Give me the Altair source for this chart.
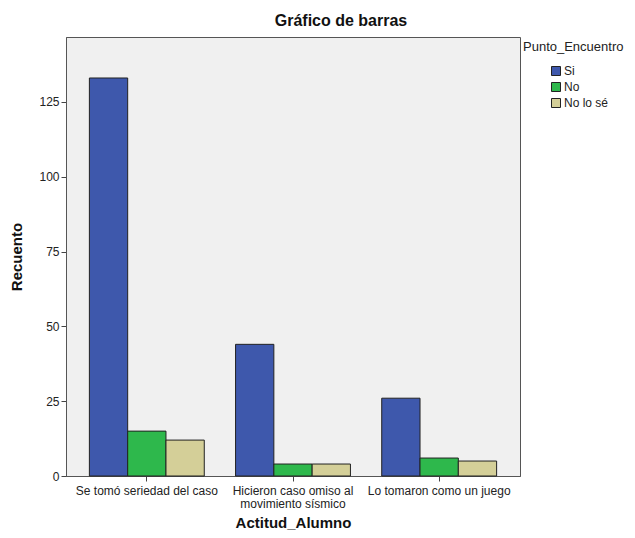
import altair as alt
import pandas as pd

categorias = ["Se tomó seriedad del caso", "Hicieron caso omiso al movimiento sísmico", "Lo tomaron como un juego"]
grupos = ["Si", "No", "No lo sé"]
si = [133, 44, 26]
no = [15, 4, 6]
no_lo_se = [12, 4, 5]
colores = ["#3E58AC", "#2EB84C", "#D4CF98"]

rows = []
for i, c in enumerate(categorias):
    for g, vals in zip(grupos, [si, no, no_lo_se]):
        rows.append({"Actitud_Alumno": c, "Punto_Encuentro": g, "Recuento": vals[i]})
df = pd.DataFrame(rows)

FONT = "Liberation Sans"

chart = alt.Chart(df).mark_bar(stroke="#222222", strokeWidth=1).encode(
    x=alt.X("Actitud_Alumno:N", sort=categorias,
            scale=alt.Scale(paddingInner=0.214, paddingOuter=0.16),
            axis=alt.Axis(title="Actitud_Alumno", labelAngle=0, labelFont=FONT, labelFontSize=12,
                          labelColor="#222222", tickColor="#444444", tickSize=5, domainColor="#555555",
                          labelPadding=4, titleFont=FONT, titleFontSize=15, titleFontWeight="bold",
                          titleColor="#111111", titlePadding=6, labelLineHeight=13,
                          labelExpr="datum.label == 'Hicieron caso omiso al movimiento sísmico' ? ['Hicieron caso omiso al', 'movimiento sísmico'] : datum.label")),
    xOffset=alt.XOffset("Punto_Encuentro:N", sort=grupos, scale=alt.Scale(paddingInner=0, paddingOuter=0)),
    y=alt.Y("Recuento:Q", scale=alt.Scale(domain=[0, 146.7], nice=False),
            axis=alt.Axis(title="Recuento", values=[0, 25, 50, 75, 100, 125], grid=False,
                          labelFont=FONT, labelFontSize=12, labelColor="#222222", tickColor="#444444",
                          tickSize=5, domainColor="#555555", labelPadding=2,
                          titleFont=FONT, titleFontSize=15, titleFontWeight="bold", titleColor="#111111",
                          titlePadding=14)),
    color=alt.Color("Punto_Encuentro:N", sort=grupos, scale=alt.Scale(domain=grupos, range=colores),
                    legend=alt.Legend(title="Punto_Encuentro", orient="none", legendX=457, legendY=4,
                                      titleFont=FONT, titleFontSize=13, titleFontWeight="normal",
                                      titleColor="#222222", labelFont=FONT, labelFontSize=12,
                                      labelColor="#222222", symbolType="square", symbolSize=81,
                                      symbolStrokeColor="#222222", symbolStrokeWidth=1,
                                      symbolOffset=27, rowPadding=2, titlePadding=11, labelOffset=2)),
).properties(
    width=454, height=439,
    title=alt.TitleParams("Gráfico de barras", font=FONT, fontSize=16, fontWeight="bold",
                          color="#111111", anchor="middle", dx=48, offset=8),
    autosize=alt.AutoSizeParams(type="none"),
    padding={"left": 58, "top": 29, "right": 107, "bottom": 54},
    background="white",
).configure_view(
    fill="#F0F0F0", stroke="#555555", strokeWidth=1
)

chart.save("out.html", embed_options={"renderer": "svg", "actions": False})
